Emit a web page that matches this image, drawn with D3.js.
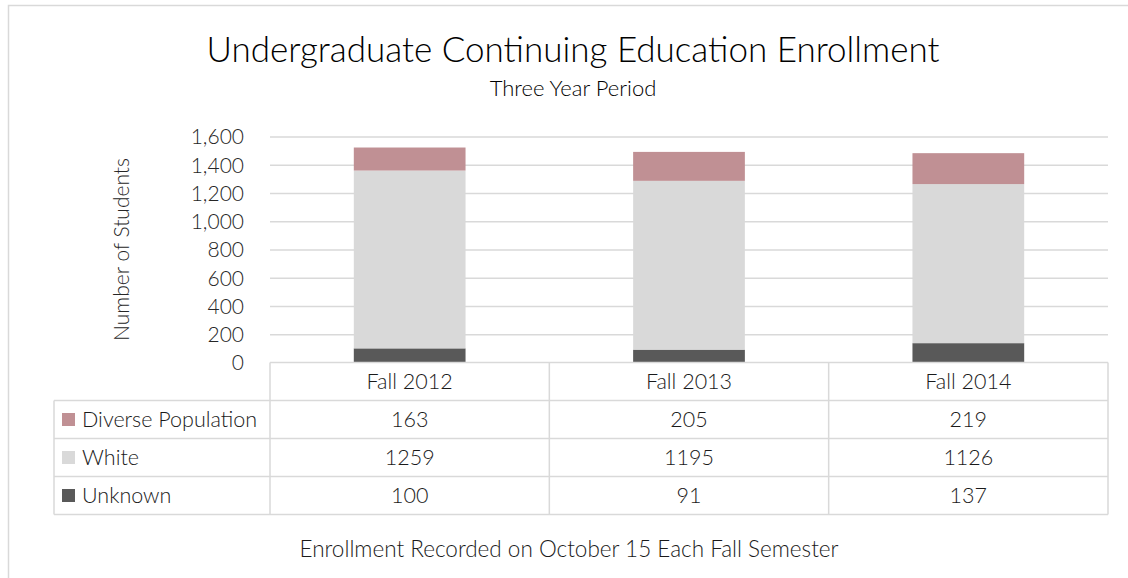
<!DOCTYPE html>
<meta charset="utf-8">
<script src="https://d3js.org/d3.v7.min.js"></script>
<style>
body { margin: 0; background: #fff; }
svg { display: block; font-family: Lato, "Open Sans", sans-serif; }
.grid line { stroke: #d9d9d9; stroke-width: 1.5px; }
.grid path { display: none; }
.yaxis path, .yaxis line { display: none; }
.yaxis text { font-size: 21px; fill: #262626; font-family: Lato, sans-serif; font-weight: 300; }
.tbl line { stroke: #d9d9d9; stroke-width: 1.5px; }
.tbl text { font-size: 21.5px; fill: #1a1a1a; font-weight: 300; }
</style>
<body>
<script>
// chart values
var categories = ['Fall 2012', 'Fall 2013', 'Fall 2014'];
var seriesNames = ['Unknown', 'White', 'Diverse Population'];
var unknown = [100, 91, 137];
var white = [1259, 1195, 1126];
var diverse = [163, 205, 219];
var yTicks = [0, 200, 400, 600, 800, 1000, 1200, 1400, 1600];
var colors = { 'Unknown': '#595959', 'White': '#d9d9d9', 'Diverse Population': '#c09094' };

var W = 1128, H = 578;
var svg = d3.select('body').append('svg').attr('width', W).attr('height', H);

// outer chart frame
svg.append('rect')
  .attr('x', 8.5).attr('y', 5.5)
  .attr('width', W + 20).attr('height', H + 20)
  .attr('fill', 'none').attr('stroke', '#d9d9d9').attr('stroke-width', 1.5);

// title + subtitle
svg.append('text').attr('x', 573).attr('y', 62).attr('text-anchor', 'middle')
  .style('font-size', '35px').style('font-weight', 300).attr('fill', '#000')
  .text('Undergraduate Continuing Education Enrollment');
svg.append('text').attr('x', 573).attr('y', 96).attr('text-anchor', 'middle')
  .style('font-size', '22px').style('font-weight', 300).attr('fill', '#000')
  .text('Three Year Period');

var plotLeft = 270, plotRight = 1108, plotTop = 136.5, plotBottom = 362.5;

var x = d3.scaleBand().domain(categories).range([plotLeft, plotRight]).paddingInner(0.6).paddingOuter(0.3);
var xCol = d3.scaleBand().domain(categories).range([plotLeft, plotRight]);
var y = d3.scaleLinear().domain([0, 1600]).range([plotBottom, plotTop]);

// gridlines
svg.append('g').attr('class', 'grid')
  .attr('transform', 'translate(' + plotLeft + ',0)')
  .call(d3.axisLeft(y).tickValues(yTicks.slice(1)).tickSize(-(plotRight - plotLeft)).tickFormat(''));

// y axis labels
svg.append('g').attr('class', 'yaxis')
  .attr('transform', 'translate(' + (plotLeft - 23) + ',0)')
  .call(d3.axisLeft(y).tickValues(yTicks).tickSize(0).tickFormat(d3.format(',')))
  .selectAll('text').attr('dy', '0.35em');

svg.append('text')
  .attr('transform', 'translate(129,' + ((plotTop + plotBottom) / 2) + ') rotate(-90)')
  .attr('text-anchor', 'middle')
  .style('font-size', '21px').style('font-weight', 300).attr('fill', '#262626')
  .text('Number of Students');

// stacked bars
var rows = categories.map(function(c, i) {
  return { cat: c, 'Unknown': unknown[i], 'White': white[i], 'Diverse Population': diverse[i] };
});
var stack = d3.stack().keys(seriesNames)(rows);

svg.append('g').selectAll('g')
  .data(stack).enter().append('g')
  .attr('fill', function(d) { return colors[d.key]; })
  .selectAll('rect')
  .data(function(d) { return d; }).enter().append('rect')
  .attr('x', function(d) { return x(d.data.cat); })
  .attr('width', x.bandwidth())
  .attr('y', function(d) { return y(d[1]); })
  .attr('height', function(d) { return y(d[0]) - y(d[1]); });

// data table
var tbl = svg.append('g').attr('class', 'tbl');
var tblLeft = 54, rowH = 38;
var rowTops = [plotBottom, plotBottom + rowH, plotBottom + 2 * rowH, plotBottom + 3 * rowH, plotBottom + 4 * rowH];

// horizontal lines
tbl.append('line').attr('x1', plotLeft).attr('x2', plotRight).attr('y1', rowTops[0]).attr('y2', rowTops[0]);
rowTops.slice(1).forEach(function(yy) {
  tbl.append('line').attr('x1', tblLeft).attr('x2', plotRight).attr('y1', yy).attr('y2', yy);
});
// vertical lines
tbl.append('line').attr('x1', tblLeft).attr('x2', tblLeft).attr('y1', rowTops[1]).attr('y2', rowTops[4]);
categories.concat(['end']).forEach(function(c, i) {
  var xx = plotLeft + i * xCol.bandwidth();
  tbl.append('line').attr('x1', xx).attr('x2', xx).attr('y1', rowTops[0]).attr('y2', rowTops[4]);
});

// header
tbl.selectAll('.hdr').data(categories).enter().append('text')
  .attr('x', function(d) { return xCol(d) + xCol.bandwidth() / 2; })
  .attr('y', rowTops[0] + rowH / 2).attr('dy', '0.35em')
  .attr('text-anchor', 'middle')
  .text(function(d) { return d; });

var tableRows = [
  { name: 'Diverse Population', vals: diverse },
  { name: 'White', vals: white },
  { name: 'Unknown', vals: unknown }
];

tableRows.forEach(function(r, ri) {
  var cy = rowTops[ri + 1] + rowH / 2;
  tbl.append('rect').attr('x', 62).attr('y', cy - 6.5).attr('width', 13).attr('height', 13)
    .attr('fill', colors[r.name]);
  tbl.append('text').attr('x', 82).attr('y', cy).attr('dy', '0.35em').text(r.name);
  tbl.selectAll(null).data(r.vals).enter().append('text')
    .attr('x', function(d, i) { return xCol(categories[i]) + xCol.bandwidth() / 2; })
    .attr('y', cy).attr('dy', '0.35em').attr('text-anchor', 'middle')
    .text(function(d) { return d; });
});

// footnote
svg.append('text').attr('x', 569).attr('y', 557).attr('text-anchor', 'middle')
  .style('font-size', '22.5px').style('font-weight', 300).attr('fill', '#1a1a1a')
  .text('Enrollment Recorded on October 15 Each Fall Semester');
</script>
</body>
